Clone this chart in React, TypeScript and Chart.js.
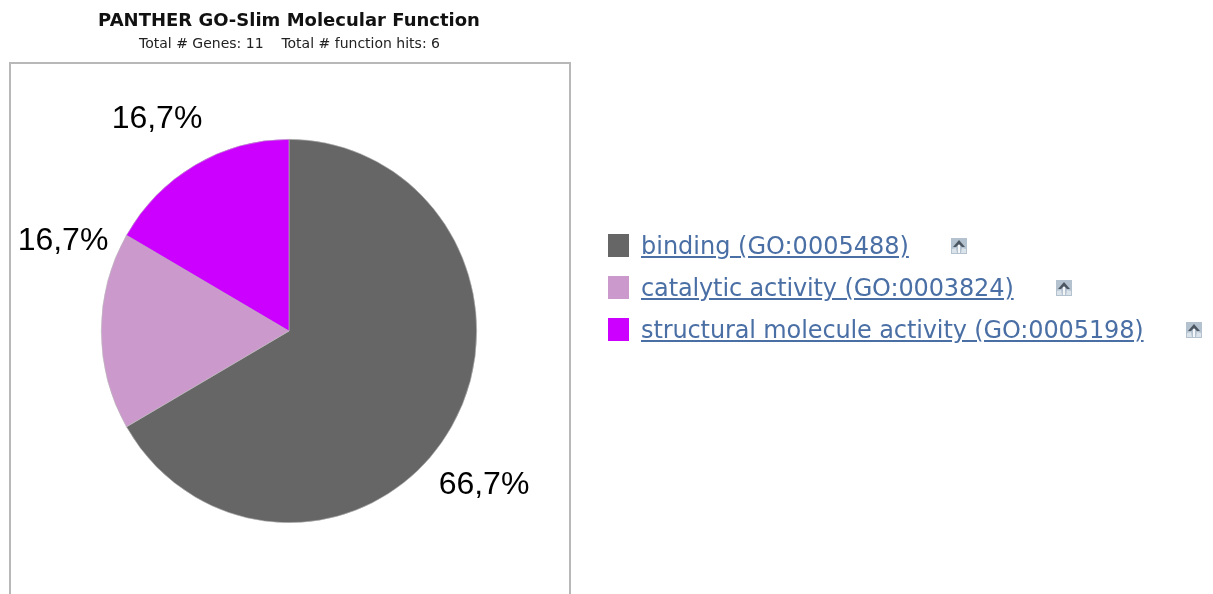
import React, { useEffect, useRef } from "react";
import { Chart, registerables } from "chart.js";

Chart.register(...registerables);

const chartTitle = "PANTHER GO-Slim Molecular Function";
const chartSubtitle = "Total # Genes: 11    Total # function hits: 6";
const categories = [
  "binding (GO:0005488)",
  "catalytic activity (GO:0003824)",
  "structural molecule activity (GO:0005198)",
];
const hits = [4, 1, 1];
const percentLabels = ["66,7%", "16,7%", "16,7%"];
const sliceColors = ["#666666", "#cc99cc", "#cc00ff"];

// Layout of the pie panel, in canvas pixels.
const WIDTH = 1213;
const HEIGHT = 594;
const CENTER = { x: 289, y: 331 };
const RADIUS = 190;
const STRETCH = { x: 188 / RADIUS, y: 192 / RADIUS };
const LABEL_OFFSETS = [
  { x: 195, y: 154 },
  { x: -226, y: -90 },
  { x: -132, y: -212 },
];
const LEGEND_ROWS = [
  { top: 234, iconLeft: 950, spacing: 0 },
  { top: 276, iconLeft: 1055, spacing: -0.13 },
  { top: 318, iconLeft: 1185, spacing: -0.12 },
];

const panelPlugin = {
  id: "panel",
  beforeDraw(chart: Chart) {
    const ctx = chart.ctx;
    ctx.save();
    ctx.fillStyle = "#ffffff";
    ctx.fillRect(0, 0, WIDTH, HEIGHT);
    ctx.strokeStyle = "#b8b8b8";
    ctx.lineWidth = 2;
    ctx.beginPath();
    ctx.moveTo(10, HEIGHT + 2);
    ctx.lineTo(10, 63);
    ctx.lineTo(570, 63);
    ctx.lineTo(570, HEIGHT + 2);
    ctx.stroke();
    ctx.textAlign = "center";
    ctx.textBaseline = "middle";
    ctx.fillStyle = "#111111";
    ctx.font = "bold 18px 'DejaVu Sans'";
    ctx.fillText(chartTitle, 289, 21);
    ctx.fillStyle = "#222222";
    ctx.font = "14px 'DejaVu Sans'";
    ctx.fillText(chartSubtitle, 289.5, 44);
    ctx.restore();
  },
  // The pie is very slightly taller than wide.
  beforeDatasetsDraw(chart: Chart) {
    const ctx = chart.ctx;
    ctx.save();
    ctx.translate(CENTER.x, CENTER.y);
    ctx.scale(STRETCH.x, STRETCH.y);
    ctx.translate(-CENTER.x, -CENTER.y);
  },
  afterDatasetsDraw(chart: Chart) {
    const ctx = chart.ctx;
    ctx.restore();
    ctx.save();
    ctx.fillStyle = "#000000";
    ctx.font = "32px 'Liberation Sans'";
    ctx.textAlign = "center";
    ctx.textBaseline = "middle";
    percentLabels.forEach((label, i) => {
      ctx.fillText(label, CENTER.x + LABEL_OFFSETS[i].x, CENTER.y + LABEL_OFFSETS[i].y);
    });
    ctx.restore();
  },
};

function UpIcon({ left, top }: { left: number; top: number }) {
  return (
    <svg
      width={18}
      height={18}
      viewBox="0 0 18 18"
      style={{ position: "absolute", left, top }}
    >
      <rect x={1} y={1} width={16} height={16} fill="#b4c2d0" />
      <path d="M9 3 L15 10 L12 10 L9 7 L6 10 L3 10 Z" fill="#4d5761" />
      <path d="M8 8 L10 8 L10 16 L8 16 Z" fill="#f4f6f8" />
      <path d="M2 12 L6 11 L7 16 L2 16 Z M16 12 L12 11 L11 16 L16 16 Z" fill="#dbe3eb" />
    </svg>
  );
}

export default function App() {
  const canvasRef = useRef<HTMLCanvasElement>(null);

  useEffect(() => {
    if (!canvasRef.current) return;
    const chart = new Chart(canvasRef.current, {
      type: "pie",
      data: {
        labels: categories,
        datasets: [
          {
            data: hits,
            backgroundColor: sliceColors,
            borderColor: "#b8b8b8",
            borderWidth: 0.6,
          },
        ],
      },
      options: {
        animation: false,
        responsive: false,
        rotation: 0,
        layout: {
          padding: {
            left: CENTER.x - RADIUS,
            right: WIDTH - CENTER.x - RADIUS,
            top: CENTER.y - RADIUS,
            bottom: HEIGHT - CENTER.y - RADIUS,
          },
        },
        plugins: {
          legend: { display: false },
          tooltip: { enabled: false },
        },
      },
      plugins: [panelPlugin],
    });
    return () => chart.destroy();
  }, []);

  return (
    <div style={{ position: "absolute", left: 0, top: 0, width: WIDTH, height: HEIGHT, overflow: "hidden" }}>
      <canvas
        ref={canvasRef}
        width={WIDTH}
        height={HEIGHT}
        style={{ position: "absolute", left: 0, top: 0, display: "block" }}
      />
      {categories.map((name, i) => (
        <React.Fragment key={name}>
          <div
            style={{
              position: "absolute",
              left: 608,
              top: LEGEND_ROWS[i].top,
              width: 21,
              height: 23,
              background: sliceColors[i],
            }}
          />
          <a
            href="#"
            style={{
              position: "absolute",
              left: 641,
              top: LEGEND_ROWS[i].top - 2,
              font: "24px 'DejaVu Sans'",
              lineHeight: "28px",
              letterSpacing: LEGEND_ROWS[i].spacing,
              color: "#4a6fa5",
              whiteSpace: "nowrap",
              textDecoration: "underline",
            }}
          >
            {name}
          </a>
          <UpIcon left={LEGEND_ROWS[i].iconLeft} top={LEGEND_ROWS[i].top + 3} />
        </React.Fragment>
      ))}
    </div>
  );
}
